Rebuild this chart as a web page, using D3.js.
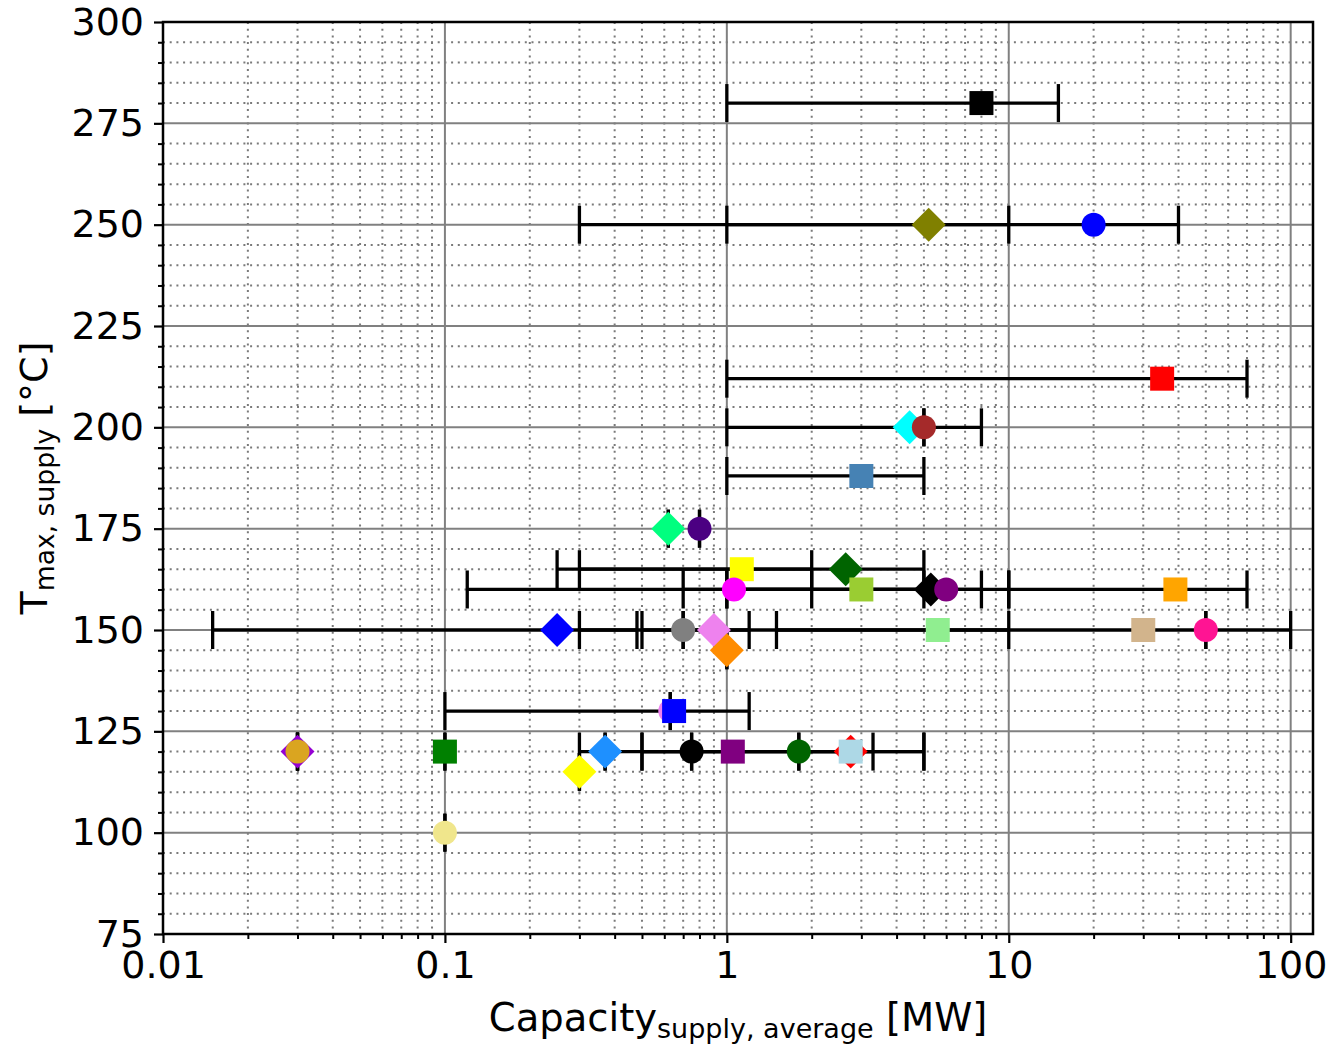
<!DOCTYPE html>
<html>
<head>
<meta charset="utf-8">
<script src="https://cdn.jsdelivr.net/npm/d3@7/dist/d3.min.js"></script>
<style>
  body { margin: 0; background: #fff; }
  text { font-family: "DejaVu Sans", sans-serif; fill: #000; }
</style>
</head>
<body>
<svg width="1332" height="1044"></svg>
<script>
// values
const capacity    = [8, 5.2, 20, 35, 4.45, 5, 3, 0.62, 0.8, 2.64, 1.13, 1.06, 3, 5.29, 6, 39,
                     0.25, 0.7, 0.9, 5.6, 30, 50, 1.0, 0.63, 0.65, 0.03, 0.03, 0.1, 0.37, 0.3,
                     0.75, 1.05, 1.8, 2.75, 2.75, 0.1];
const capacityMin = [1, 0.3, 1, 1, 1, 5, 1, 0.62, 0.8, 0.3, 0.25, 0.7, 1, 0.12, 1, 10,
                     0.015, 0.7, 0.5, 0.3, 1.5, 50, 1.0, 0.63, 0.1, 0.03, 0.03, 0.1, 0.37, 0.3,
                     0.75, 0.3, 1.8, 0.5, 0.5, 0.1];
const capacityMax = [15, 10, 40, 70, 8, 5, 5, 0.62, 0.8, 5, 2, 2, 5, 8, 10, 70,
                     0.48, 0.7, 1.2, 10, 100, 50, 1.0, 0.63, 1.2, 0.03, 0.03, 0.1, 0.37, 0.3,
                     0.75, 3.3, 1.8, 5, 5, 0.1];
const tmax        = [280, 250, 250, 212, 200, 200, 188, 175, 175, 165, 165, 160, 160, 160, 160, 160,
                     150, 150, 150, 150, 150, 150, 145, 130, 130, 120, 120, 120, 120, 115,
                     120, 120, 120, 120, 120, 100];
const markerShape = ['s', 'D', 'o', 's', 'D', 'o', 's', 'D', 'o', 'D', 's', 'o', 's', 'D', 'o', 's',
                     'D', 'o', 'D', 's', 's', 'o', 'D', 'o', 's', 'D', 'o', 's', 'D', 'D',
                     'o', 's', 'o', 'D', 's', 'o'];
const markerColor = ['black', 'olive', 'blue', 'red', 'cyan', 'brown', 'steelblue', 'springgreen', 'indigo',
                     'darkgreen', 'yellow', 'magenta', 'yellowgreen', 'black', 'purple', 'orange',
                     'blue', 'gray', 'violet', 'lightgreen', 'tan', 'deeppink', 'darkorange', 'violet', 'blue',
                     'darkviolet', 'goldenrod', 'green', 'dodgerblue', 'yellow',
                     'black', 'purple', 'darkgreen', 'red', 'lightblue', 'khaki'];

const xMajor = [0.01, 0.1, 1, 10, 100];
const xMajorLabels = ['0.01', '0.1', '1', '10', '100'];
const yMajor = [75, 100, 125, 150, 175, 200, 225, 250, 275, 300];

const points = capacity.map((c, i) => ({
    x: c, y: tmax[i], lo: capacityMin[i], hi: capacityMax[i],
    shape: markerShape[i], color: markerColor[i]
}));

const svg = d3.select('svg');
const margin = { top: 22, right: 19, bottom: 110, left: 163 };
const width = +svg.attr('width');
const height = +svg.attr('height');
const innerWidth = width - margin.left - margin.right;
const innerHeight = height - margin.top - margin.bottom;

const xScale = d3.scaleLog().domain([0.01, 120]).range([0, innerWidth]);
const yScale = d3.scaleLinear().domain([75, 300]).range([innerHeight, 0]);

// minor tick positions
const xMinor = [];
xMajor.forEach(d => { for (let k = 2; k <= 9; k++) { const v = d * k; if (v < 120) xMinor.push(v); } });
const yMinor = d3.range(75, 301, 5).filter(v => v % 25 !== 0);

const g = svg.append('g').attr('transform', `translate(${margin.left},${margin.top})`);

// grid: minor dotted, then major solid
const grid = g.append('g');
const minorStyle = sel => sel.attr('stroke', '#7a7a7a').attr('stroke-width', 2).attr('stroke-dasharray', '2,4.7');
grid.selectAll('.gx-minor').data(xMinor).enter().append('line')
    .attr('x1', d => xScale(d)).attr('x2', d => xScale(d))
    .attr('y1', 0).attr('y2', innerHeight)
    .call(minorStyle);
grid.selectAll('.gy-minor').data(yMinor).enter().append('line')
    .attr('y1', d => yScale(d)).attr('y2', d => yScale(d))
    .attr('x1', 0).attr('x2', innerWidth)
    .call(minorStyle);
grid.selectAll('.gx-major').data(xMajor).enter().append('line')
    .attr('x1', d => xScale(d)).attr('x2', d => xScale(d))
    .attr('y1', 0).attr('y2', innerHeight)
    .attr('stroke', '#808080').attr('stroke-width', 2);
grid.selectAll('.gy-major').data(yMajor).enter().append('line')
    .attr('y1', d => yScale(d)).attr('y2', d => yScale(d))
    .attr('x1', 0).attr('x2', innerWidth)
    .attr('stroke', '#808080').attr('stroke-width', 2);

// error bars (horizontal) with caps
const capHalf = 19;
const bars = g.append('g');
bars.selectAll('.bar').data(points.filter(d => d.hi > d.lo)).enter().append('line')
    .attr('x1', d => xScale(d.lo)).attr('x2', d => xScale(d.hi))
    .attr('y1', d => yScale(d.y)).attr('y2', d => yScale(d.y))
    .attr('stroke', 'black').attr('stroke-width', 3.3);
const caps = [];
points.forEach(d => { caps.push({ x: d.lo, y: d.y }); caps.push({ x: d.hi, y: d.y }); });
bars.selectAll('.cap').data(caps).enter().append('line')
    .attr('x1', d => xScale(d.x)).attr('x2', d => xScale(d.x))
    .attr('y1', d => yScale(d.y) - capHalf).attr('y2', d => yScale(d.y) + capHalf)
    .attr('stroke', 'black').attr('stroke-width', 3.3);

// markers
const ms = 24;
const symbolOf = s => s === 'o' ? d3.symbolCircle : d3.symbolSquare;
g.append('g').selectAll('path').data(points).enter().append('path')
    .attr('d', d => d3.symbol().type(symbolOf(d.shape)).size(d.shape === 'o' ? Math.PI * ms * ms / 4 : ms * ms)())
    .attr('transform', d => `translate(${xScale(d.x)},${yScale(d.y)})` + (d.shape === 'D' ? ' rotate(45)' : ''))
    .attr('fill', d => d.color);

// axes
const xAxis = d3.axisBottom(xScale).tickValues(xMajor).tickFormat((d, i) => xMajorLabels[i]).tickSize(9).tickPadding(8);
const xAxisMinor = d3.axisBottom(xScale).tickValues(xMinor).tickFormat('').tickSize(5);
const yAxis = d3.axisLeft(yScale).tickValues(yMajor).tickSize(9).tickPadding(10);
const yAxisMinor = d3.axisLeft(yScale).tickValues(yMinor).tickFormat('').tickSize(5);

const xg = g.append('g').attr('transform', `translate(0,${innerHeight})`).call(xAxis);
const xgm = g.append('g').attr('transform', `translate(0,${innerHeight})`).call(xAxisMinor);
const yg = g.append('g').call(yAxis);
const ygm = g.append('g').call(yAxisMinor);
xgm.selectAll('text').remove();
ygm.selectAll('text').remove();

g.selectAll('.domain').remove();
g.selectAll('.tick line').attr('stroke', 'black').attr('stroke-width', 2);
xg.selectAll('.tick line').attr('stroke-width', 2.2);
yg.selectAll('.tick line').attr('stroke-width', 2.2);
g.selectAll('.tick text').style('font-size', '38px').attr('fill', 'black');

// frame
g.append('rect').attr('width', innerWidth).attr('height', innerHeight)
    .attr('fill', 'none').attr('stroke', 'black').attr('stroke-width', 2.5);

// axis labels
const xLabel = svg.append('text')
    .attr('x', margin.left + innerWidth / 2).attr('y', 1031)
    .attr('text-anchor', 'middle').style('font-size', '38.5px');
xLabel.append('tspan').text('Capacity');
xLabel.append('tspan').attr('dy', 7).style('font-size', '27px').text('supply, average');
xLabel.append('tspan').attr('dy', -7).text(' [MW]');

const yLabel = svg.append('text')
    .attr('transform', `translate(47,${margin.top + innerHeight / 2}) rotate(-90)`)
    .attr('text-anchor', 'middle').style('font-size', '38px');
yLabel.append('tspan').text('T');
yLabel.append('tspan').attr('dy', 7).style('font-size', '26.6px').text('max, supply');
yLabel.append('tspan').attr('dy', -7).text(' [°C]');
</script>
</body>
</html>
